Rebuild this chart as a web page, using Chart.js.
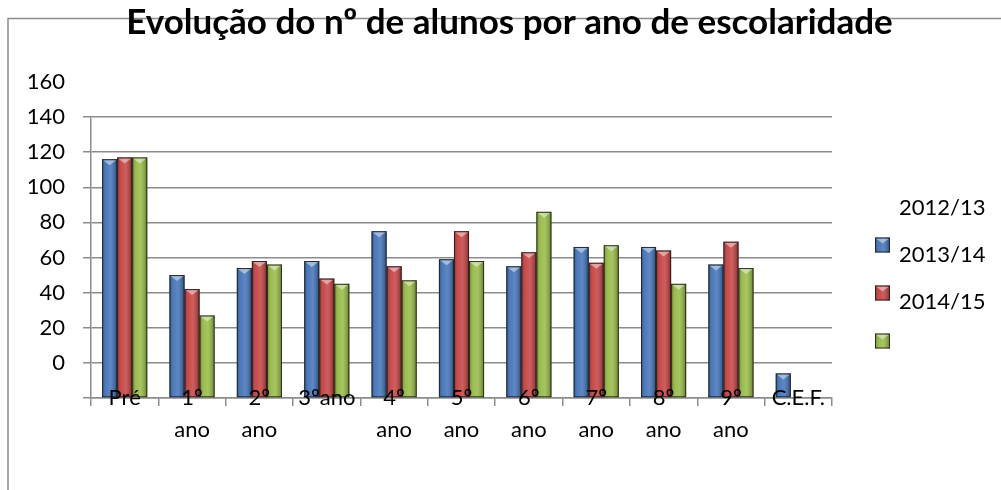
<!DOCTYPE html>
<html lang="pt">
<head>
    <meta charset="UTF-8">
    <title>Evolução do nº de alunos</title>
    <script src="https://cdn.jsdelivr.net/npm/chart.js"></script>
    <style>
        body { margin: 0; background: #fff; }
        #wrap { width: 1001px; height: 490px; }
    </style>
</head>
<body>
    <div id="wrap"><canvas id="alunosChart" width="1001" height="490"></canvas></div>
    <script>
        // dados
        const categories = ['Pré', ['1º', 'ano'], ['2º', 'ano'], '3ºano', ['4º', 'ano'], ['5º', 'ano'],
            ['6º', 'ano'], ['7º', 'ano'], ['8º', 'ano'], ['9º', 'ano'], 'C.E.F.'];
        const seriesNames = ['2012/13', '2013/14', '2014/15'];
        const values1213 = [116, 50, 54, 58, 75, 59, 55, 66, 66, 56, -6];
        const values1314 = [117, 42, 58, 48, 55, 75, 63, 57, 64, 69, null];
        const values1415 = [117, 27, 56, 45, 47, 58, 86, 67, 45, 54, null];
        const seriesColors = ['#3b6db6', '#c33a3a', '#93b83e'];
        const yMin = -20, yMax = 140, yStep = 20, yExtraTick = 160;

        const FONT = 'Lato, "Open Sans", sans-serif';
        const GRID = '#8c8c8c';

        // moldura cinzenta (esquerda e topo)
        const framePlugin = {
            id: 'frame',
            beforeDraw(chart) {
                const ctx = chart.ctx;
                ctx.save();
                ctx.strokeStyle = GRID;
                ctx.lineWidth = 1.5;
                ctx.beginPath();
                ctx.moveTo(8, 490);
                ctx.lineTo(8, 18.5);
                ctx.lineTo(1001, 18.5);
                ctx.stroke();
                ctx.restore();
            }
        };

        // sombreado tipo Excel por cima das barras
        function shadeBar(ctx, left, right, top, bottom) {
            const g = ctx.createLinearGradient(left, 0, right, 0);
            g.addColorStop(0, 'rgba(0,0,0,0.28)');
            g.addColorStop(0.3, 'rgba(255,255,255,0.10)');
            g.addColorStop(0.55, 'rgba(255,255,255,0.18)');
            g.addColorStop(1, 'rgba(0,0,0,0.32)');
            ctx.fillStyle = g;
            ctx.fillRect(left, top, right - left, bottom - top);
            // tampa triangular
            const cap = Math.min(6, (bottom - top) / 2);
            ctx.fillStyle = 'rgba(255,255,255,0.45)';
            ctx.beginPath();
            ctx.moveTo(left + 1, top + 1);
            ctx.lineTo(right - 1, top + 1);
            ctx.lineTo((left + right) / 2, top + cap);
            ctx.closePath();
            ctx.fill();
            ctx.strokeStyle = 'rgba(30,30,30,0.85)';
            ctx.lineWidth = 1;
            ctx.strokeRect(left + 0.5, top + 0.5, right - left - 1, bottom - top - 1);
        }

        const shadePlugin = {
            id: 'shade',
            afterDatasetsDraw(chart) {
                const ctx = chart.ctx;
                ctx.save();
                chart.data.datasets.forEach((ds, di) => {
                    chart.getDatasetMeta(di).data.forEach((bar, i) => {
                        if (ds.data[i] === null) return;
                        const p = bar.getProps(['x', 'y', 'base', 'width'], true);
                        shadeBar(ctx, p.x - p.width / 2, p.x + p.width / 2, Math.min(p.y, p.base), Math.max(p.y, p.base));
                    });
                });
                ctx.restore();
            }
        };

        // rótulos das categorias por cima do eixo, como no original
        const catLabelPlugin = {
            id: 'catLabels',
            afterDatasetsDraw(chart) {
                const ctx = chart.ctx;
                const xs = chart.scales.x;
                const bottom = chart.chartArea.bottom;
                ctx.save();
                ctx.font = '22px ' + FONT;
                ctx.fillStyle = '#000';
                ctx.textAlign = 'center';
                ctx.textBaseline = 'alphabetic';
                categories.forEach((lab, i) => {
                    const lines = Array.isArray(lab) ? lab : [lab];
                    const x = xs.getPixelForTick(i);
                    lines.forEach((t, j) => ctx.fillText(t, x, bottom + 7 + j * 32));
                });
                ctx.restore();
            }
        };

        // legenda desenhada à mão (marcadores desfasados como no original)
        const legendPlugin = {
            id: 'sideLegend',
            afterDraw(chart) {
                const ctx = chart.ctx;
                const area = chart.chartArea;
                const x0 = area.right + 43;
                ctx.save();
                ctx.font = '22px ' + FONT;
                ctx.textBaseline = 'middle';
                seriesNames.forEach((name, i) => {
                    ctx.fillStyle = '#000';
                    ctx.fillText(name, x0 + 24, area.top + 91 + i * 47);
                    const cy = area.top + 128 + i * 48;
                    ctx.fillStyle = seriesColors[i];
                    ctx.fillRect(x0, cy - 7.5, 15, 15);
                    shadeBar(ctx, x0, x0 + 15, cy - 7.5, cy + 7.5);
                });
                ctx.restore();
            }
        };

        const makeSet = (i, data) => ({
            label: seriesNames[i],
            data: data,
            backgroundColor: seriesColors[i],
            borderWidth: 0,
            base: yMin
        });

        new Chart(document.getElementById('alunosChart').getContext('2d'), {
            type: 'bar',
            data: {
                labels: categories,
                datasets: [makeSet(0, values1213), makeSet(1, values1314), makeSet(2, values1415)]
            },
            options: {
                responsive: false,
                animation: false,
                categoryPercentage: 0.67,
                barPercentage: 1.0,
                layout: { padding: { left: 18, right: 0, top: 0, bottom: 0 } },
                plugins: {
                    legend: { display: false },
                    tooltip: { enabled: false },
                    title: {
                        display: true,
                        text: 'Evolução do nº de alunos por ano de escolaridade',
                        color: '#000',
                        font: { family: FONT, size: 35, weight: 'bold', lineHeight: 1.2 },
                        padding: { top: 1.5, bottom: 73.5 }
                    }
                },
                scales: {
                    x: {
                        grid: { drawOnChartArea: false, drawTicks: true, tickLength: 8, color: GRID, lineWidth: 1.5 },
                        border: { color: GRID, width: 1.5 },
                        ticks: { display: false },
                        afterFit(scale) { scale.height = 92; }
                    },
                    y: {
                        min: yMin,
                        max: yMax,
                        afterBuildTicks(scale) {
                            scale.ticks.push({ value: yExtraTick });
                        },
                        afterFit(scale) { scale.width = 73; },
                        grid: {
                            color: (c) => (c.tick && c.tick.value === yExtraTick) ? 'rgba(0,0,0,0)' : GRID,
                            lineWidth: 1.5,
                            tickLength: 8
                        },
                        border: { color: GRID, width: 1.5 },
                        ticks: {
                            stepSize: yStep,
                            color: '#000',
                            padding: 18,
                            font: { family: FONT, size: 22 },
                            callback: (v) => v === yMin ? '' : v
                        }
                    },
                    // eixo vazio para reservar o espaço da legenda
                    spacer: {
                        type: 'linear',
                        position: 'right',
                        grid: { display: false },
                        border: { display: false },
                        ticks: { display: false },
                        afterFit(scale) { scale.width = 169; }
                    }
                }
            },
            plugins: [framePlugin, shadePlugin, catLabelPlugin, legendPlugin]
        });
    </script>
</body>
</html>
